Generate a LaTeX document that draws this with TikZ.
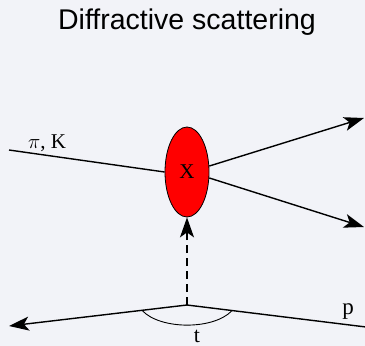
\documentclass[tikz,border=0pt]{standalone}
\usepackage{fontspec}
\setmainfont{Liberation Serif}
\setsansfont{Liberation Sans}
\usetikzlibrary{arrows.meta, positioning, shapes.geometric}
\definecolor{bg}{HTML}{F2F3F8}
\begin{document}
\begin{tikzpicture}[x=1pt, y=-1pt,
  line/.style={line width=1.4pt},
  arr/.style={line width=1.4pt, -{Stealth[length=20pt, width=14pt, inset=5pt]}},
  lbl/.style={inner sep=0pt, anchor=base, font=\fontsize{23}{25}\selectfont}
]
\fill[bg] (0,0) rectangle (365,346);
\useasboundingbox (0,0) rectangle (365,346);
\node[anchor=base, inner sep=0pt, font=\sffamily\fontsize{28.5}{32}\selectfont] (title) at (187,29) {Diffractive scattering};
\node[draw, fill=red, ellipse, minimum width=44pt, minimum height=90pt, inner sep=0pt, line width=0.8pt,
      font=\fontsize{21}{24}\selectfont] (blob) at (187,172) {X};
\coordinate (pin)  at (9,150);
\coordinate (out1) at (364,118);
\coordinate (out2) at (364,227);
\coordinate (vtx)  at (187,305);
\coordinate (pout) at (9,326);
\coordinate (pin2) at (366,327);
\coordinate (ta)   at (142,310.3);
\coordinate (tb)   at (232,310.6);
\node[lbl, font=\fontsize{21}{23}\selectfont] (pik) at (47,148) {$\pi$, K};
\node[lbl, font=\fontsize{22}{24}\selectfont] (tlab) at (197,342) {t};
\node[lbl] (plab) at (348,314) {p};
\draw[line] (pin) -- (blob.west);
\draw[arr] (blob.15) -- (out1);
\draw[arr] (blob.-15) -- (out2);
\draw[arr, dashed, dash pattern=on 8pt off 5pt] (vtx) -- (blob.south);
\draw[line] (pin2) -- (vtx);
\draw[arr] (vtx) -- (pout);
\draw[line width=0.9pt] (ta) .. controls (160,330) and (214,330) .. (tb);
\end{tikzpicture}
\end{document}
